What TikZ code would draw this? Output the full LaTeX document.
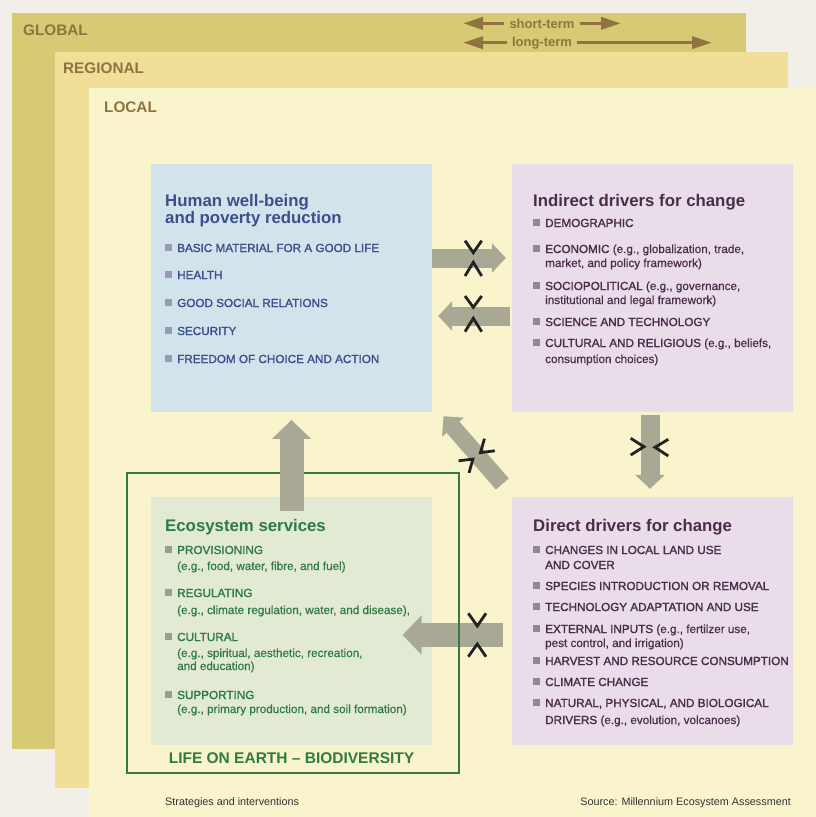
\documentclass[tikz,border=0pt]{standalone}
\usepackage{fontspec}
\setmainfont{Liberation Sans}
\newfontfamily\medfont[FakeBold=1.6]{Liberation Sans}
\newfontfamily\egfont[FakeBold=0.5]{Liberation Sans}
\usetikzlibrary{arrows.meta}

\definecolor{pagec}{HTML}{F2EFE8}
\definecolor{globc}{HTML}{D6CB74}
\definecolor{regic}{HTML}{EFDF98}
\definecolor{locac}{HTML}{FAF4CC}
\definecolor{labc}{HTML}{8F7340}
\definecolor{hwfill}{HTML}{D3E3EC}
\definecolor{hwtext}{HTML}{3C4F8D}
\definecolor{hwbul}{HTML}{9C98B8}
\definecolor{drvfill}{HTML}{EADDEA}
\definecolor{drvtext}{HTML}{4A2D4B}
\definecolor{drvbul}{HTML}{8F8791}
\definecolor{ecofill}{HTML}{E2EAD4}
\definecolor{ecotext}{HTML}{2F7B44}
\definecolor{ecobul}{HTML}{8DA38B}
\definecolor{ecoline}{HTML}{357A3E}
\definecolor{arrc}{HTML}{A9A895}
\definecolor{chevc}{HTML}{222222}
\definecolor{footc}{HTML}{333333}

\newcommand{\bul}[1]{{\color{#1}\rule[1.5pt]{7pt}{7pt}}\hspace{5pt}}
\newcommand{\eg}[1]{{\egfont #1}}

\begin{document}
\begin{tikzpicture}[x=1pt, y=-1pt,
    lvl/.style={anchor=base west, inner sep=0pt, text=labc, font=\fontsize{15.3}{17}\selectfont\bfseries},
    term/.style={anchor=base, inner xsep=5pt, inner ysep=0pt, text=labc, font=\fontsize{13}{15}\selectfont\bfseries},
    tarr/.style={draw=labc, line width=3.5pt, -{Triangle[width=12pt,length=20pt]}},
    panel/.style={inner sep=0pt, minimum width=281pt, minimum height=248pt},
    ttl/.style={anchor=base west, inner sep=0pt, font=\fontsize{16.8}{18}\selectfont\bfseries},
    itm/.style={anchor=base west, inner sep=0pt, font=\medfont\fontsize{11.7}{14}\selectfont},
    fat/.style={draw=arrc, line width=19pt, -{Triangle[width=29pt,length=14pt]}},
    bigfat/.style={draw=arrc, line width=24pt, -{Triangle[width=38pt,length=19pt]}},
    chev/.style={draw=chevc, line width=2.8pt},
    foot/.style={inner sep=0pt, text=footc, font=\fontsize{10.8}{12}\selectfont}]
  \useasboundingbox (0,0) rectangle (816,817);
  % scale layers
  \fill[pagec] (0,0) rectangle (816,817);
  \fill[globc] (12,13) rectangle (746,749);
  \fill[regic] (55,52) rectangle (788,788);
  \fill[locac] (89,88) rectangle (816,817);
  \node[lvl] (glob) at (23,35) {GLOBAL};
  \node[lvl] (regi) at (63,73) {REGIONAL};
  \node[lvl] (loca) at (104,112) {LOCAL};

  % time scales
  \node[term] (st) at (542,28) {short-term};
  \node[term] (lt) at (542,46) {long-term};
  \coordinate (stL) at (463,23.3);
  \coordinate (stR) at (621,23.3);
  \coordinate (ltL) at (463,41.7);
  \coordinate (ltR) at (712,41.7);
  \draw[tarr] (st.west) -- (stL |- st.west);
  \draw[tarr] (st.east) -- (stR |- st.east);
  \draw[tarr] (lt.west) -- (ltL |- lt.west);
  \draw[tarr] (lt.east) -- (ltR |- lt.east);

  % panels
  \node[panel, fill=hwfill] (hw) at (291.5,288) {};
  \node[panel, fill=drvfill] (ind) at (652.5,288) {};
  \node[panel, fill=drvfill] (dd) at (652.5,621) {};
  \node[panel, fill=ecofill] (eco) at (291.5,621) {};

  % arrows
  \draw[bigfat] ([xshift=-9pt,yshift=-14pt]dd.west) -- ([xshift=-29.7pt,yshift=-14pt]eco.east);
  \node[draw=ecoline, line width=2.2pt, inner sep=0pt, minimum width=332pt, minimum height=300pt] (bio) at (293,623) {};
  \draw[bigfat] ([yshift=-14pt]eco.north) -- ([yshift=-7.7pt]hw.south);
  \draw[fat] ([yshift=30pt]hw.east) -- ([xshift=-6pt,yshift=30pt]ind.west);
  \draw[fat] ([xshift=-2pt,yshift=-28pt]ind.west) -- ([xshift=6pt,yshift=-28pt]hw.east);
  \draw[fat] ([xshift=-2.5pt,yshift=-3pt]ind.south) -- ([xshift=-2.5pt,yshift=8pt]dd.north);
  \draw[fat, line width=17pt, -{Triangle[width=28pt,length=14.5pt]}] ([xshift=-9.5pt,yshift=12.8pt]dd.north west) -- ([xshift=11.3pt,yshift=-4pt]hw.south east);

  % short/long marks
  \draw[chev] (465,240.7) -- (473.3,252.7) -- (481.7,240.7);
  \draw[chev] (465,276) -- (473.3,262.3) -- (481.7,276);
  \draw[chev] (465,296) -- (473.3,307.3) -- (481.7,296);
  \draw[chev] (465,331.7) -- (473.3,318.3) -- (481.7,331.7);
  \draw[chev] (630.7,438.3) -- (644,446.7) -- (630.7,455);
  \draw[chev] (668.3,439.3) -- (655,447.3) -- (668.3,456);
  \draw[chev] (494.8,450.8) -- (480.5,452.6) -- (484.4,438.7);
  \draw[chev] (469,472.9) -- (472.9,459.1) -- (458.6,460.8);
  \draw[chev] (468.3,613.3) -- (477.3,626) -- (486,613.3);
  \draw[chev] (468.3,656.7) -- (477.3,644) -- (486,656.7);

  % human well-being
  \node[ttl, text=hwtext] (hwt1) at (165,206) {Human well-being};
  \node[ttl, text=hwtext] (hwt2) at (165,223) {and poverty reduction};
  \node[itm, text=hwtext] (hw1) at (165,252) {\bul{hwbul}BASIC MATERIAL FOR A GOOD LIFE};
  \node[itm, text=hwtext] (hw2) at (165,279) {\bul{hwbul}HEALTH};
  \node[itm, text=hwtext] (hw3) at (165,307) {\bul{hwbul}GOOD SOCIAL RELATIONS};
  \node[itm, text=hwtext] (hw4) at (165,335) {\bul{hwbul}SECURITY};
  \node[itm, text=hwtext] (hw5) at (165,363) {\bul{hwbul}FREEDOM OF CHOICE AND ACTION};

  % indirect drivers
  \node[ttl, text=drvtext] (idt) at (533,206) {Indirect drivers for change};
  \node[itm, text=drvtext] (id1) at (533,227) {\bul{drvbul}DEMOGRAPHIC};
  \node[itm, text=drvtext] (id2) at (533,253) {\bul{drvbul}ECONOMIC \eg{(e.g., globalization, trade,}};
  \node[itm, text=drvtext] (id2b) at (545,267) {\eg{market, and policy framework)}};
  \node[itm, text=drvtext] (id3) at (533,290) {\bul{drvbul}SOCIOPOLITICAL \eg{(e.g., governance,}};
  \node[itm, text=drvtext] (id3b) at (545,304) {\eg{institutional and legal framework)}};
  \node[itm, text=drvtext] (id4) at (533,326) {\bul{drvbul}SCIENCE AND TECHNOLOGY};
  \node[itm, text=drvtext] (id5) at (533,347) {\bul{drvbul}CULTURAL AND RELIGIOUS \eg{(e.g., beliefs,}};
  \node[itm, text=drvtext] (id5b) at (545,363) {\eg{consumption choices)}};

  % direct drivers
  \node[ttl, text=drvtext] (ddt) at (533,531) {Direct drivers for change};
  \node[itm, text=drvtext] (dd1) at (533,554) {\bul{drvbul}CHANGES IN LOCAL LAND USE};
  \node[itm, text=drvtext] (dd1b) at (545,569) {AND COVER};
  \node[itm, text=drvtext] (dd2) at (533,590) {\bul{drvbul}SPECIES INTRODUCTION OR REMOVAL};
  \node[itm, text=drvtext] (dd3) at (533,611) {\bul{drvbul}TECHNOLOGY ADAPTATION AND USE};
  \node[itm, text=drvtext] (dd4) at (533,633) {\bul{drvbul}EXTERNAL INPUTS \eg{(e.g., fertilzer use,}};
  \node[itm, text=drvtext] (dd4b) at (545,647) {\eg{pest control, and irrigation)}};
  \node[itm, text=drvtext] (dd5) at (533,665) {\bul{drvbul}HARVEST AND RESOURCE CONSUMPTION};
  \node[itm, text=drvtext] (dd6) at (533,686) {\bul{drvbul}CLIMATE CHANGE};
  \node[itm, text=drvtext] (dd7) at (533,707) {\bul{drvbul}NATURAL, PHYSICAL, AND BIOLOGICAL};
  \node[itm, text=drvtext] (dd7b) at (545,724) {DRIVERS \eg{(e.g., evolution, volcanoes)}};

  % ecosystem services
  \node[ttl, text=ecotext] (est) at (165,531) {Ecosystem services};
  \node[itm, text=ecotext] (es1) at (165,554) {\bul{ecobul}PROVISIONING};
  \node[itm, text=ecotext] (es1b) at (177,570) {\eg{(e.g., food, water, fibre, and fuel)}};
  \node[itm, text=ecotext] (es2) at (165,597) {\bul{ecobul}REGULATING};
  \node[itm, text=ecotext] (es2b) at (177,614) {\eg{(e.g., climate regulation, water, and disease),}};
  \node[itm, text=ecotext] (es3) at (165,641) {\bul{ecobul}CULTURAL};
  \node[itm, text=ecotext] (es3b) at (177,657) {\eg{(e.g., spiritual, aesthetic, recreation,}};
  \node[itm, text=ecotext] (es3c) at (177,670) {\eg{and education)}};
  \node[itm, text=ecotext] (es4) at (165,699) {\bul{ecobul}SUPPORTING};
  \node[itm, text=ecotext] (es4b) at (177,713) {\eg{(e.g., primary production, and soil formation)}};
  \node[anchor=base, inner sep=0pt, text=ecotext, font=\fontsize{15.5}{17}\selectfont\bfseries] (life) at (291.5,763) {LIFE ON EARTH -- BIODIVERSITY};

  % footer
  \node[foot, anchor=base west] (strat) at (165,805) {Strategies and interventions};
  \node[foot, anchor=base east] (src) at (791,805) {Source: Millennium Ecosystem Assessment};
\end{tikzpicture}
\end{document}
